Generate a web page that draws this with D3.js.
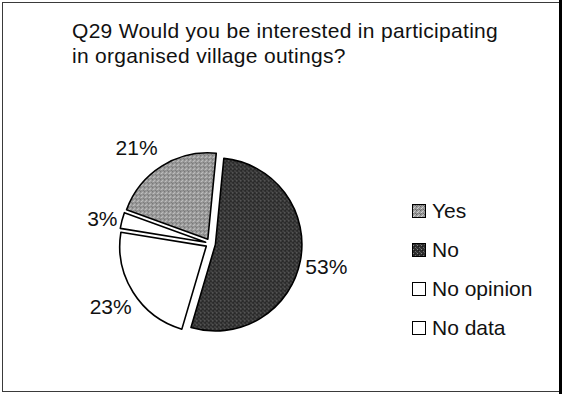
<!DOCTYPE html>
<html>
<head>
<meta charset="utf-8">
<script src="https://cdn.jsdelivr.net/npm/d3@7"></script>
<style>
  html, body { margin: 0; padding: 0; background: #fff; }
  svg { display: block; }
  text { font-family: "Liberation Sans", Arial, sans-serif; fill: #111; }
</style>
</head>
<body>
<svg id="chart" width="562" height="394"></svg>
<script>
// Survey answers, in legend order
const categories = ["Yes", "No", "No opinion", "No data"];
const shares = [21, 53, 23, 3];
const titleLines = ["Q29 Would you be interested in participating", "in organised village outings?"];

const W = 562, H = 394;
const firstSliceDeg = 290; // angle at which the first answer begins, clockwise from 12 o'clock
// small best-fit shifts for labels that would crowd their neighbours
const labelNudge = { "Yes": [-11, 4], "No data": [6, 5] };
const svg = d3.select("#chart");

// Stippled fills for the two shaded answers
const defs = svg.append("defs");
function stipple(id, base, dots) {
  const p = defs.append("pattern").attr("id", id)
    .attr("patternUnits", "userSpaceOnUse").attr("width", 4).attr("height", 4);
  p.append("rect").attr("width", 4).attr("height", 4).attr("fill", base);
  dots.forEach(([x, y, c]) => p.append("rect").attr("x", x).attr("y", y)
    .attr("width", 1).attr("height", 1).attr("fill", c));
}
stipple("fillYes", "#999999", [[0,0,"#666666"],[2,1,"#cccccc"],[1,2,"#d4d4d4"],[3,3,"#6c6c6c"],[3,0,"#b8b8b8"],[1,3,"#787878"]]);
stipple("fillNo", "#2e2e2e", [[1,0,"#8a8a8a"],[3,2,"#6e6e6e"],[0,3,"#555"],[2,1,"#1a1a1a"]]);

const fills = d3.scaleOrdinal().domain(categories)
  .range(["url(#fillYes)", "url(#fillNo)", "#ffffff", "#ffffff"]);

// Frame
svg.append("rect").attr("x", 2.5).attr("y", 2.5).attr("width", W - 5).attr("height", H - 5)
  .attr("fill", "none").attr("stroke", "#3a3a3a").attr("stroke-width", 1);
svg.append("line").attr("x1", W - 1.5).attr("x2", W - 1.5).attr("y1", 0).attr("y2", H)
  .attr("stroke", "#000").attr("stroke-width", 3);

// Title
svg.append("g").selectAll("text").data(titleLines).join("text")
  .attr("x", 72).attr("y", (d, i) => 38 + i * 25)
  .attr("font-size", 21).attr("letter-spacing", 0.3).text(d => d);

// Pie
const total = d3.sum(shares);
const start = firstSliceDeg * Math.PI / 180;
const pie = d3.pie().sort(null).value(d => d.v)
  .startAngle(start).endAngle(start + 2 * Math.PI);
const arcs = pie(categories.map((c, i) => ({ c, v: shares[i] })));

const cx = 210.5, cy = 243.5, r = 86.5, explode = 5, labelR = 118;
const arc = d3.arc().innerRadius(0).outerRadius(r);
const mid = d => (d.startAngle + d.endAngle) / 2;
const nudge = d => labelNudge[d.data.c] || [0, 0];

const g = svg.append("g").attr("transform", `translate(${cx},${cy})`);
g.selectAll("path").data(arcs).join("path")
  .attr("transform", d => `translate(${explode * Math.sin(mid(d))},${-explode * Math.cos(mid(d))})`)
  .attr("d", arc)
  .attr("fill", d => fills(d.data.c))
  .attr("stroke", "#000").attr("stroke-width", 1.6).attr("stroke-linejoin", "round");

g.selectAll("text").data(arcs).join("text")
  .attr("x", d => labelR * Math.sin(mid(d)) + nudge(d)[0])
  .attr("y", d => -labelR * Math.cos(mid(d)) + nudge(d)[1])
  .attr("text-anchor", "middle").attr("dominant-baseline", "central")
  .attr("font-size", 21)
  .text(d => Math.round(d.data.v / total * 100) + "%");

// Legend
const ly = d3.scalePoint().domain(categories).range([218, 335]);
const leg = svg.append("g").selectAll("g").data(categories).join("g")
  .attr("transform", d => `translate(412,${ly(d)})`);
leg.append("rect").attr("x", 0.5).attr("y", -13.5).attr("width", 13).attr("height", 13)
  .attr("fill", d => fills(d)).attr("stroke", "#000").attr("stroke-width", 1);
leg.append("text").attr("x", 20).attr("y", 0).attr("font-size", 21).text(d => d);
</script>
</body>
</html>
